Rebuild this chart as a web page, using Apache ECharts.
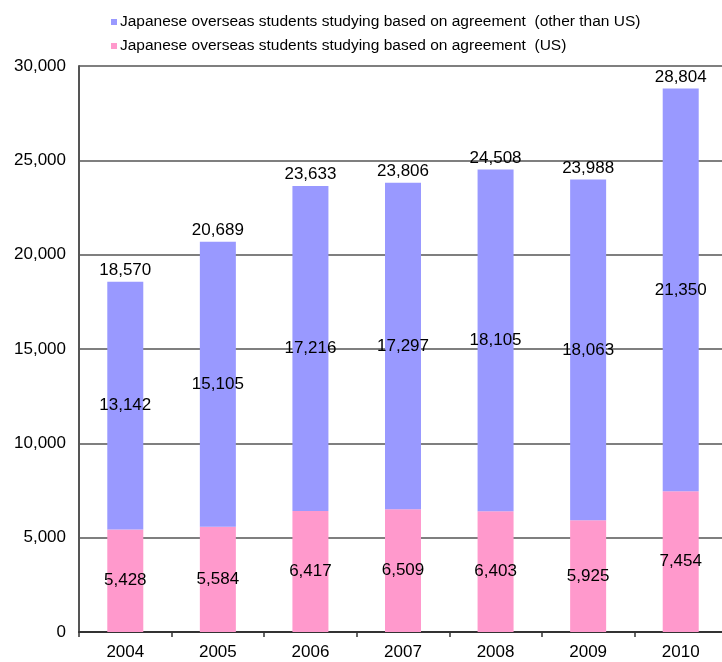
<!DOCTYPE html>
<html>
<head>
<meta charset="utf-8">
<script src="https://cdn.jsdelivr.net/npm/echarts@6/dist/echarts.min.js"></script>
<style>
  html, body { margin: 0; padding: 0; background: #fff; }
  #chart { width: 722px; height: 662px; }
</style>
</head>
<body>
<div id="chart"></div>
<script>
// Academic years shown on the category axis
const years = ['2004', '2005', '2006', '2007', '2008', '2009', '2010'];
// Students going to the US (bottom segment)
const usStudents = [5428, 5584, 6417, 6509, 6403, 5925, 7454];
// Students going to other countries (top segment)
const otherStudents = [13142, 15105, 17216, 17297, 18105, 18063, 21350];
// Value axis ticks
const yTicks = [0, 5000, 10000, 15000, 20000, 25000, 30000];

const nameUS = 'Japanese overseas students studying based on agreement  (US)';
const nameOther = 'Japanese overseas students studying based on agreement  (other than US)';

const totals = years.map((_, i) => usStudents[i] + otherStudents[i]);
const fmt = v => v.toLocaleString('en-US');
const FONT = '"Liberation Sans", Arial, sans-serif';

const chart = echarts.init(document.getElementById('chart'), null, { renderer: 'canvas' });

chart.setOption({
  animation: false,
  backgroundColor: '#ffffff',
  textStyle: { fontFamily: FONT },
  legend: {
    orient: 'vertical',
    left: 106,
    top: 9,
    itemWidth: 6,
    itemHeight: 6,
    itemGap: 8,
    icon: 'rect',
    data: [nameOther, nameUS],
    textStyle: { fontSize: 15.5, color: '#000', fontFamily: FONT, padding: [0, 0, 0, -2] }
  },
  grid: {
    left: 79,
    right: -5,
    top: 66,
    bottom: 30,
    containLabel: false,
    outerBoundsMode: 'none'
  },
  xAxis: {
    type: 'category',
    data: years,
    axisLine: { show: true, lineStyle: { color: '#333', width: 2 } },
    axisTick: { show: true, length: 5, lineStyle: { color: '#333', width: 1.5 } },
    axisLabel: { color: '#000', fontSize: 17, margin: 12, fontFamily: FONT }
  },
  yAxis: {
    type: 'value',
    min: yTicks[0],
    max: yTicks[yTicks.length - 1],
    interval: yTicks[1] - yTicks[0],
    axisLine: { show: true, lineStyle: { color: '#555', width: 2 } },
    axisTick: { show: false },
    splitLine: { show: true, lineStyle: { color: '#555', width: 1.5 } },
    axisLabel: {
      color: '#000', fontSize: 17, margin: 13, fontFamily: FONT,
      formatter: v => fmt(v)
    }
  },
  series: [
    {
      name: nameUS,
      type: 'bar',
      stack: 'total',
      barWidth: 36,
      data: usStudents,
      itemStyle: { color: '#FF99CC' },
      label: {
        show: true,
        position: 'inside',
        color: '#000',
        fontSize: 17,
        fontFamily: FONT,
        formatter: p => fmt(p.value)
      }
    },
    {
      name: nameOther,
      type: 'bar',
      stack: 'total',
      barWidth: 36,
      data: otherStudents,
      itemStyle: { color: '#9999FF' },
      label: {
        show: true,
        position: 'inside',
        color: '#000',
        fontSize: 17,
        fontFamily: FONT,
        formatter: p => fmt(p.value)
      }
    },
    {
      // Transparent carrier for the total labels above each bar
      name: 'total',
      type: 'bar',
      stack: 'total',
      barWidth: 36,
      data: totals.map(() => 0),
      itemStyle: { color: 'transparent' },
      label: {
        show: true,
        position: 'top',
        distance: 3,
        color: '#000',
        fontSize: 17,
        fontFamily: FONT,
        formatter: p => fmt(totals[p.dataIndex])
      },
      tooltip: { show: false }
    }
  ]
});
</script>
</body>
</html>
